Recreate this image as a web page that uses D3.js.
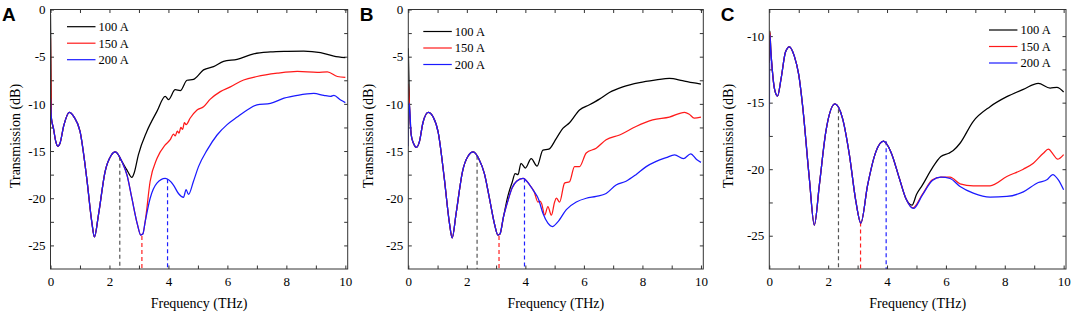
<!DOCTYPE html>
<html>
<head>
<meta charset="utf-8">
<script src="https://cdn.jsdelivr.net/npm/d3@7"></script>
<style>
  body { margin: 0; background: #fff; }
  svg { display: block; }
  .tick text { font-family: "Liberation Serif", serif; font-size: 13px; fill: #000; }
  .domain { display: none; }
</style>
</head>
<body>
<div id="chart"></div>
<script>
var currents = ["100 A", "150 A", "200 A"];
var colors = ["#000000", "#ff1a1a", "#1a1aff"];
var dashColors = ["#555555", "#ff2020", "#2020ff"];
var xTicks = d3.range(0, 11, 1);

// marker frequencies (THz) and where the dashed lines start
var markerFreq = [2.35, 3.1, 3.97];
var markerTopA = [-15.6, -24, -18];
var markerTopB = [-15.5, -24, -17.9];
var markerTopC = [-15.5, -24, -17.9];

// ---- panel A ----
var startA100 = [[0, -0.5]];
var startA150 = [[0, -3.05]];
var startA200 = [[0, -9.4]];
var baseA = [[0.03, -11.5], [0.1, -12.6], [0.18, -14], [0.25, -14.5], [0.32, -14.2], [0.45, -12.3], [0.64, -10.9],
  [0.8, -11.4], [1.0, -12.9], [1.23, -17.9], [1.4, -22.5], [1.49, -24.1], [1.63, -21.7], [1.85, -17.2],
  [2.05, -15.5], [2.2, -15.1], [2.42, -16.1]];
var tailA100 = [[2.59, -17], [2.76, -17.8], [2.84, -17.3], [2.98, -15.4], [3.27, -12.9], [3.61, -10.8], [3.89, -9.2],
  [4.0, -9.55], [4.23, -8.5], [4.4, -8.6], [4.63, -7.5], [4.85, -7.4], [5.19, -6.4], [5.53, -6.06], [5.87, -5.5],
  [6.33, -5.28], [6.89, -4.7], [7.46, -4.5], [8.03, -4.43], [8.59, -4.4], [9.16, -4.57], [9.61, -4.93], [10, -5.1]];
var sharedA = [[2.6, -17.6], [2.76, -20], [2.95, -22.8], [3.06, -23.9], [3.13, -23.8], [3.21, -22.5]];
var tailA150 = [[3.38, -18.2], [3.61, -15.8], [3.89, -14.35], [4.06, -13.8], [4.17, -13.2], [4.23, -13.4], [4.3, -12.9],
  [4.36, -13.1], [4.42, -12.5], [4.48, -12.7], [4.54, -12.0], [4.6, -12.2], [4.74, -11.5], [4.97, -10.65], [5.19, -10.3],
  [5.42, -9.5], [5.76, -8.7], [6.1, -8.2], [6.55, -7.47], [7.0, -7.1], [7.69, -6.75], [8.37, -6.55], [9.05, -6.65],
  [9.39, -6.6], [9.73, -7.1], [10, -7.2]];
var tailA200 = [[3.38, -20], [3.61, -18.4], [3.89, -17.9], [4.17, -18.6], [4.34, -19.5], [4.51, -19.9], [4.6, -19.1],
  [4.68, -19.6], [4.85, -18.2], [5.02, -16.65], [5.31, -14.9], [5.65, -13.3], [5.99, -12.2], [6.33, -11.4],
  [6.67, -10.65], [7.0, -10.1], [7.46, -9.94], [7.92, -9.4], [8.37, -9.1], [8.93, -8.9], [9.27, -9.1], [9.5, -9.2],
  [9.61, -9.1], [9.84, -9.6], [10, -9.87]];

// ---- panel B ----
var startB100 = [[0, -4.1]];
var startB150 = [[0, -7.9]];
var startB200 = [[0, -14.5], [0.02, -9.9]];
var baseB = [[0.04, -10.2], [0.1, -13.3], [0.18, -14.2], [0.28, -14.6], [0.38, -14], [0.5, -12], [0.68, -10.9],
  [0.85, -11.4], [1.02, -13], [1.23, -17.9], [1.4, -22.5], [1.5, -24.2], [1.63, -21.7], [1.85, -17.2], [2.05, -15.5],
  [2.22, -15.1], [2.42, -15.9], [2.6, -17.4], [2.76, -19.8], [2.95, -22.8], [3.06, -23.9], [3.13, -23.8], [3.25, -22]];
var tailB100 = [[3.4, -19.8], [3.55, -18.3], [3.65, -17.4], [3.75, -17.5], [3.85, -16.3], [4.0, -16.8], [4.2, -15.8],
  [4.4, -16.6], [4.6, -14.9], [4.8, -14.8], [5.06, -13.65], [5.28, -12.6], [5.51, -12], [5.85, -10.65], [6.19, -10.1],
  [6.53, -9.5], [6.87, -8.8], [7.33, -8.2], [7.9, -7.75], [8.47, -7.47], [8.92, -7.3], [9.37, -7.54], [9.71, -7.75],
  [10, -7.9]];
var sharedB = [[3.4, -20.3], [3.55, -18.9], [3.7, -18.2], [3.92, -17.9], [4.15, -18.6], [4.3, -19.3]];
var tailB150 = [[4.43, -20.4], [4.5, -20.3], [4.56, -20.6], [4.66, -21.8], [4.77, -20.9], [4.89, -21.8], [5.0, -20.4],
  [5.06, -20], [5.17, -20.4], [5.34, -18.4], [5.51, -18.25], [5.68, -16.65], [5.85, -16.65], [6.08, -15.2],
  [6.42, -14.7], [6.76, -13.8], [7.22, -13.3], [7.78, -12.4], [8.35, -11.7], [8.92, -11.4], [9.44, -10.9],
  [9.6, -11.1], [9.77, -11.5], [10, -11.4]];
var tailB200 = [[4.45, -20.1], [4.6, -21.6], [4.77, -22.65], [4.92, -23], [5.11, -22.5], [5.4, -21.2], [5.74, -20.4],
  [6.08, -20], [6.42, -19.8], [6.76, -19.5], [7.1, -18.6], [7.44, -18.2], [7.78, -17.5], [8.13, -16.65], [8.47, -16.1],
  [8.81, -15.7], [9.1, -15.4], [9.4, -15.8], [9.65, -15.3], [9.85, -15.9], [10, -16.2]];

// ---- panel C ----
var startC100 = [[0, -12], [0.02, -9.6]];
var startC150 = [[0, -12], [0.02, -9.7]];
var startC200 = [[0, -17.5], [0.02, -9.9]];
var baseC = [[0.05, -11], [0.1, -12.5], [0.18, -14], [0.28, -14.5], [0.4, -13.2], [0.55, -11.2], [0.68, -10.8],
  [0.85, -11.5], [1.0, -12.9], [1.13, -15.2], [1.36, -20.7], [1.53, -24.2], [1.7, -21.2], [1.92, -17.2], [2.23, -15.1],
  [2.49, -16.2], [2.72, -18.9], [2.94, -22.4], [3.11, -24.05], [3.34, -21.2], [3.62, -18.7], [3.88, -17.9],
  [4.13, -18.7], [4.42, -20.7], [4.64, -22.2]];
var tailC100 = [[4.85, -22.7], [5.0, -21.9], [5.2, -21.2], [5.54, -19.9], [5.83, -19.05], [6.1, -18.8], [6.25, -18.6],
  [6.48, -18.05], [6.93, -16.4], [7.5, -15.3], [8.07, -14.55], [8.63, -14], [9.14, -13.55], [9.54, -13.9],
  [9.77, -13.85], [10, -14.2]];
var tailC150 = [[4.88, -22.9], [5.2, -21.9], [5.54, -20.8], [5.83, -20.6], [6.14, -20.6], [6.48, -21.1], [6.93, -21.25],
  [7.5, -21.25], [8.07, -20.55], [8.63, -20], [8.97, -19.55], [9.31, -18.8], [9.48, -18.5], [9.65, -18.9],
  [9.79, -19.25], [10, -18.9]];
var tailC200 = [[4.9, -22.95], [5.2, -21.95], [5.54, -20.85], [5.83, -20.6], [6.14, -20.7], [6.48, -21.3], [6.93, -21.8],
  [7.5, -22.1], [8.07, -22.05], [8.63, -21.7], [9.14, -21], [9.43, -20.8], [9.63, -20.4], [9.82, -20.8], [10, -21.55]];

var panels = [
  { letter: "A", left: 50.5, right: 347.7, yDomain: [-27.5, 0], yLabelX: 20, legend: { x: 16.5, y: 26.7, fromRight: false },
    series: [startA100.concat(baseA, tailA100), startA150.concat(baseA, sharedA, tailA150), startA200.concat(baseA, sharedA, tailA200)],
    markerTop: markerTopA },
  { letter: "B", left: 408.3, right: 703.3, yDomain: [-27.5, 0], yLabelX: 373, legend: { x: 15, y: 31.5, fromRight: false },
    series: [startB100.concat(baseB, tailB100), startB150.concat(baseB, sharedB, tailB150), startB200.concat(baseB, sharedB, tailB200)],
    markerTop: markerTopB },
  { letter: "C", left: 769.3, right: 1066, yDomain: [-27.5, -8], yLabelX: 733, legend: { x: -77, y: 30, fromRight: true },
    series: [startC100.concat(baseC, tailC100), startC150.concat(baseC, tailC150), startC200.concat(baseC, tailC200)],
    markerTop: markerTopC }
];

var W = 1072, H = 314, plotTop = 9.5, plotBottom = 269;
var svg = d3.select("#chart").append("svg").attr("width", W).attr("height", H);

panels.forEach(function(p, pi) {
  var xScale = d3.scaleLinear().domain([0, 10.08]).range([p.left, p.right]);
  var yScale = d3.scaleLinear().domain(p.yDomain).range([plotBottom, plotTop]);
  var yTicks = d3.range(Math.ceil(p.yDomain[0] / 2.5) * 2.5, p.yDomain[1] + 0.01, 2.5)
    .filter(function(v) { return v > p.yDomain[0] && v <= p.yDomain[1]; });
  var g = svg.append("g");

  // axes with inward ticks on all four sides
  var fmtX = function(d) { return d % 2 === 0 ? d : ""; };
  var fmtY = function(d) { return d % 5 === 0 ? d : ""; };
  g.append("g").attr("transform", "translate(0," + plotBottom + ")")
    .call(d3.axisBottom(xScale).tickValues(xTicks).tickFormat(fmtX).tickSizeInner(-3.5).tickSizeOuter(0).tickPadding(8));
  g.append("g").attr("transform", "translate(0," + plotTop + ")")
    .call(d3.axisTop(xScale).tickValues(xTicks).tickFormat("").tickSizeInner(-3.5).tickSizeOuter(0));
  g.append("g").attr("transform", "translate(" + p.left + ",0)")
    .call(d3.axisLeft(yScale).tickValues(yTicks).tickFormat(fmtY).tickSizeInner(-3.5).tickSizeOuter(0).tickPadding(5));
  g.append("g").attr("transform", "translate(" + p.right + ",0)")
    .call(d3.axisRight(yScale).tickValues(yTicks).tickFormat("").tickSizeInner(-3.5).tickSizeOuter(0));
  g.selectAll(".tick line").attr("stroke", "#333");

  // dashed marker lines
  markerFreq.forEach(function(f, i) {
    g.append("line")
      .attr("x1", xScale(f)).attr("x2", xScale(f))
      .attr("y1", yScale(p.markerTop[i])).attr("y2", plotBottom)
      .attr("stroke", dashColors[i]).attr("stroke-width", 1.2)
      .attr("stroke-dasharray", "4,3");
  });

  // curves, 200 A drawn last so it sits on top where they overlap
  var line = d3.line()
    .x(function(d) { return xScale(d[0]); })
    .y(function(d) { return yScale(d[1]); })
    .curve(d3.curveMonotoneX);
  var clipId = "clip" + pi;
  g.append("clipPath").attr("id", clipId).append("rect")
    .attr("x", p.left).attr("y", plotTop).attr("width", p.right - p.left).attr("height", plotBottom - plotTop);
  p.series.forEach(function(s, i) {
    g.append("path")
      .attr("d", line(s))
      .attr("clip-path", "url(#" + clipId + ")")
      .attr("fill", "none")
      .attr("stroke", colors[i])
      .attr("stroke-width", 1.25);
  });

  // frame
  g.append("rect")
    .attr("x", p.left).attr("y", plotTop)
    .attr("width", p.right - p.left).attr("height", plotBottom - plotTop)
    .attr("fill", "none").attr("stroke", "#333").attr("stroke-width", 1);

  // legend
  var lx = p.legend.fromRight ? p.right + p.legend.x : p.left + p.legend.x;
  currents.forEach(function(c, i) {
    var ly = p.legend.y + i * 16.5;
    g.append("line").attr("x1", lx).attr("x2", lx + 28.5).attr("y1", ly).attr("y2", ly)
      .attr("stroke", colors[i]).attr("stroke-width", 1.2);
    g.append("text").attr("x", lx + 31.5).attr("y", ly + 4.3)
      .style("font-family", "Liberation Serif, serif").style("font-size", "12.5px")
      .text(c);
  });

  // axis titles
  g.append("text")
    .attr("x", (p.left + p.right) / 2).attr("y", 307.5)
    .attr("text-anchor", "middle")
    .style("font-family", "Liberation Serif, serif").style("font-size", "14px")
    .text("Frequency (THz)");
  g.append("text")
    .attr("transform", "translate(" + p.yLabelX + "," + 136 + ") rotate(-90)")
    .attr("text-anchor", "middle")
    .style("font-family", "Liberation Serif, serif").style("font-size", "14px")
    .text("Transmission (dB)");

  // panel letter
  g.append("text")
    .attr("x", p.left - 48.5).attr("y", 21)
    .style("font-family", "Liberation Sans, Arial, sans-serif").style("font-size", "19px")
    .style("font-weight", "bold")
    .text(p.letter);
});
</script>
</body>
</html>
